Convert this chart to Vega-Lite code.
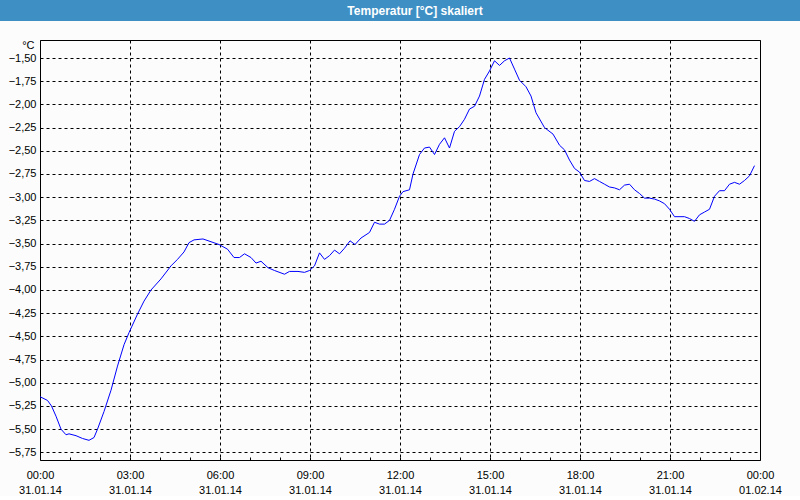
{
 "$schema": "https://vega.github.io/schema/vega-lite/v6.json",
 "background": "#fbfcfb",
 "padding": 0,
 "bounds": "flush",
 "center": true,
 "spacing": 19,
 "config": {"font": "Liberation Sans", "view": {"stroke": null}},
 "datasets": {
  "head": [{"title": "Temperatur [°C] skaliert"}],
  "temp": [
   {"t":"2014-01-31T00:00","v":-5.15},{"t":"2014-01-31T00:15","v":-5.19},{"t":"2014-01-31T00:23","v":-5.25},{"t":"2014-01-31T00:32","v":-5.36},
   {"t":"2014-01-31T00:42","v":-5.50},{"t":"2014-01-31T00:52","v":-5.56},{"t":"2014-01-31T00:58","v":-5.55},{"t":"2014-01-31T01:12","v":-5.57},
   {"t":"2014-01-31T01:25","v":-5.60},{"t":"2014-01-31T01:38","v":-5.62},{"t":"2014-01-31T01:48","v":-5.59},{"t":"2014-01-31T01:55","v":-5.50},
   {"t":"2014-01-31T02:08","v":-5.31},{"t":"2014-01-31T02:22","v":-5.08},{"t":"2014-01-31T02:35","v":-4.82},{"t":"2014-01-31T02:48","v":-4.59},
   {"t":"2014-01-31T02:58","v":-4.46},{"t":"2014-01-31T03:15","v":-4.26},{"t":"2014-01-31T03:28","v":-4.12},{"t":"2014-01-31T03:42","v":-4.00},
   {"t":"2014-01-31T04:02","v":-3.88},{"t":"2014-01-31T04:22","v":-3.74},{"t":"2014-01-31T04:35","v":-3.67},{"t":"2014-01-31T04:48","v":-3.59},
   {"t":"2014-01-31T04:58","v":-3.49},{"t":"2014-01-31T05:08","v":-3.46},{"t":"2014-01-31T05:26","v":-3.45},{"t":"2014-01-31T05:42","v":-3.48},
   {"t":"2014-01-31T05:58","v":-3.51},{"t":"2014-01-31T06:15","v":-3.56},{"t":"2014-01-31T06:28","v":-3.65},{"t":"2014-01-31T06:39","v":-3.65},
   {"t":"2014-01-31T06:49","v":-3.61},{"t":"2014-01-31T07:02","v":-3.65},{"t":"2014-01-31T07:12","v":-3.71},{"t":"2014-01-31T07:22","v":-3.69},
   {"t":"2014-01-31T07:36","v":-3.76},{"t":"2014-01-31T07:49","v":-3.79},{"t":"2014-01-31T08:09","v":-3.83},{"t":"2014-01-31T08:19","v":-3.80},
   {"t":"2014-01-31T08:36","v":-3.80},{"t":"2014-01-31T08:49","v":-3.81},{"t":"2014-01-31T08:59","v":-3.79},{"t":"2014-01-31T09:09","v":-3.74},
   {"t":"2014-01-31T09:19","v":-3.60},{"t":"2014-01-31T09:29","v":-3.67},{"t":"2014-01-31T09:39","v":-3.63},{"t":"2014-01-31T09:49","v":-3.57},
   {"t":"2014-01-31T09:59","v":-3.61},{"t":"2014-01-31T10:09","v":-3.55},{"t":"2014-01-31T10:20","v":-3.47},{"t":"2014-01-31T10:30","v":-3.51},
   {"t":"2014-01-31T10:42","v":-3.44},{"t":"2014-01-31T10:59","v":-3.38},{"t":"2014-01-31T11:09","v":-3.27},{"t":"2014-01-31T11:19","v":-3.29},
   {"t":"2014-01-31T11:29","v":-3.29},{"t":"2014-01-31T11:39","v":-3.25},{"t":"2014-01-31T11:49","v":-3.13},{"t":"2014-01-31T11:59","v":-2.99},
   {"t":"2014-01-31T12:06","v":-2.94},{"t":"2014-01-31T12:19","v":-2.92},{"t":"2014-01-31T12:26","v":-2.75},{"t":"2014-01-31T12:39","v":-2.54},
   {"t":"2014-01-31T12:49","v":-2.47},{"t":"2014-01-31T12:59","v":-2.46},{"t":"2014-01-31T13:09","v":-2.54},{"t":"2014-01-31T13:19","v":-2.43},
   {"t":"2014-01-31T13:29","v":-2.36},{"t":"2014-01-31T13:39","v":-2.47},{"t":"2014-01-31T13:49","v":-2.29},{"t":"2014-01-31T13:59","v":-2.24},
   {"t":"2014-01-31T14:09","v":-2.16},{"t":"2014-01-31T14:19","v":-2.05},{"t":"2014-01-31T14:29","v":-2.02},{"t":"2014-01-31T14:39","v":-1.91},
   {"t":"2014-01-31T14:49","v":-1.73},{"t":"2014-01-31T14:59","v":-1.64},{"t":"2014-01-31T15:09","v":-1.53},{"t":"2014-01-31T15:19","v":-1.58},
   {"t":"2014-01-31T15:29","v":-1.53},{"t":"2014-01-31T15:39","v":-1.50},{"t":"2014-01-31T15:49","v":-1.62},{"t":"2014-01-31T15:59","v":-1.74},
   {"t":"2014-01-31T16:12","v":-1.81},{"t":"2014-01-31T16:22","v":-1.91},{"t":"2014-01-31T16:32","v":-2.09},{"t":"2014-01-31T16:49","v":-2.25},
   {"t":"2014-01-31T17:06","v":-2.32},{"t":"2014-01-31T17:19","v":-2.44},{"t":"2014-01-31T17:29","v":-2.49},{"t":"2014-01-31T17:39","v":-2.60},
   {"t":"2014-01-31T17:49","v":-2.69},{"t":"2014-01-31T17:59","v":-2.73},{"t":"2014-01-31T18:09","v":-2.82},{"t":"2014-01-31T18:19","v":-2.83},
   {"t":"2014-01-31T18:29","v":-2.80},{"t":"2014-01-31T18:39","v":-2.83},{"t":"2014-01-31T18:49","v":-2.86},{"t":"2014-01-31T18:59","v":-2.89},
   {"t":"2014-01-31T19:09","v":-2.90},{"t":"2014-01-31T19:19","v":-2.92},{"t":"2014-01-31T19:29","v":-2.87},{"t":"2014-01-31T19:39","v":-2.86},
   {"t":"2014-01-31T19:49","v":-2.92},{"t":"2014-01-31T19:59","v":-2.96},{"t":"2014-01-31T20:09","v":-3.01},{"t":"2014-01-31T20:19","v":-3.01},
   {"t":"2014-01-31T20:29","v":-3.02},{"t":"2014-01-31T20:39","v":-3.04},{"t":"2014-01-31T20:49","v":-3.07},{"t":"2014-01-31T20:59","v":-3.13},
   {"t":"2014-01-31T21:09","v":-3.21},{"t":"2014-01-31T21:29","v":-3.21},{"t":"2014-01-31T21:39","v":-3.23},{"t":"2014-01-31T21:49","v":-3.26},
   {"t":"2014-01-31T21:59","v":-3.19},{"t":"2014-01-31T22:09","v":-3.16},{"t":"2014-01-31T22:19","v":-3.13},{"t":"2014-01-31T22:29","v":-2.99},
   {"t":"2014-01-31T22:39","v":-2.93},{"t":"2014-01-31T22:49","v":-2.93},{"t":"2014-01-31T22:59","v":-2.86},{"t":"2014-01-31T23:09","v":-2.84},
   {"t":"2014-01-31T23:19","v":-2.86},{"t":"2014-01-31T23:29","v":-2.82},{"t":"2014-01-31T23:39","v":-2.77},{"t":"2014-01-31T23:49","v":-2.66}
  ]
 },
 "vconcat": [
  {
   "width": 800, "height": 21,
   "data": {"name": "head"},
   "layer": [
    {"mark": {"type": "rect", "color": "#3d8fc4"}, "encoding": {}},
    {"mark": {"type": "text", "color": "white", "fontWeight": "bold", "fontSize": 12, "dx": 15, "baseline": "middle"},
     "encoding": {"text": {"field": "title"}}}
   ]
  },
  {
   "width": 720, "height": 420,
   "view": {"stroke": "black", "strokeWidth": 1},
   "data": {"name": "temp"},
   "layer": [
    {
     "mark": {"type": "line", "color": "#0000ff", "strokeWidth": 1},
     "encoding": {
      "x": {
       "field": "t", "type": "temporal",
       "scale": {"domain": [{"year": 2014, "month": 1, "date": 31, "hours": 0}, {"year": 2014, "month": 2, "date": 1, "hours": 0}], "nice": false},
       "axis": {
        "title": null, "domain": false,
        "values": [
         {"year": 2014, "month": 1, "date": 31, "hours": 0}, {"year": 2014, "month": 1, "date": 31, "hours": 1}, {"year": 2014, "month": 1, "date": 31, "hours": 2},
         {"year": 2014, "month": 1, "date": 31, "hours": 3}, {"year": 2014, "month": 1, "date": 31, "hours": 4}, {"year": 2014, "month": 1, "date": 31, "hours": 5},
         {"year": 2014, "month": 1, "date": 31, "hours": 6}, {"year": 2014, "month": 1, "date": 31, "hours": 7}, {"year": 2014, "month": 1, "date": 31, "hours": 8},
         {"year": 2014, "month": 1, "date": 31, "hours": 9}, {"year": 2014, "month": 1, "date": 31, "hours": 10}, {"year": 2014, "month": 1, "date": 31, "hours": 11},
         {"year": 2014, "month": 1, "date": 31, "hours": 12}, {"year": 2014, "month": 1, "date": 31, "hours": 13}, {"year": 2014, "month": 1, "date": 31, "hours": 14},
         {"year": 2014, "month": 1, "date": 31, "hours": 15}, {"year": 2014, "month": 1, "date": 31, "hours": 16}, {"year": 2014, "month": 1, "date": 31, "hours": 17},
         {"year": 2014, "month": 1, "date": 31, "hours": 18}, {"year": 2014, "month": 1, "date": 31, "hours": 19}, {"year": 2014, "month": 1, "date": 31, "hours": 20},
         {"year": 2014, "month": 1, "date": 31, "hours": 21}, {"year": 2014, "month": 1, "date": 31, "hours": 22}, {"year": 2014, "month": 1, "date": 31, "hours": 23},
         {"year": 2014, "month": 2, "date": 1, "hours": 0}
        ],
        "ticks": true, "tickSize": -3, "tickColor": "black",
        "labelExpr": "hours(datum.value) % 3 === 0 ? [timeFormat(datum.value, '%H:%M'), timeFormat(datum.value, '%d.%m.%y')] : ''",
        "labelOverlap": false, "labelFlush": false, "labelPadding": 12, "labelBaseline": "top", "labelLineHeight": 15,
        "labelFontSize": 11, "labelColor": "black",
        "grid": true, "gridColor": "black", "gridDash": [3, 3],
        "gridOpacity": {"condition": {"test": "hours(datum.value) % 3 === 0", "value": 1}, "value": 0}
       }
      },
      "y": {
       "field": "v", "type": "quantitative",
       "scale": {"domain": [-5.832, -1.306], "nice": false, "zero": false},
       "axis": {
        "title": "°C", "titleAngle": 0, "titleAlign": "right", "titleBaseline": "middle", "titleX": -6, "titleY": 5,
        "titleFontSize": 11, "titleFontWeight": "normal", "titleColor": "black",
        "values": [-5.75, -5.5, -5.25, -5.0, -4.75, -4.5, -4.25, -4.0, -3.75, -3.5, -3.25, -3.0, -2.75, -2.5, -2.25, -2.0, -1.75, -1.5],
        "labelExpr": "replace(format(datum.value, '.2f'), '.', ',')",
        "domain": false, "ticks": false, "labelPadding": 4, "labelFontSize": 11, "labelColor": "black",
        "labelOverlap": false, "labelFlush": false,
        "grid": true, "gridColor": "black", "gridDash": [3, 3], "gridOpacity": 1
       }
      }
     }
    }
   ]
  }
 ]
}
